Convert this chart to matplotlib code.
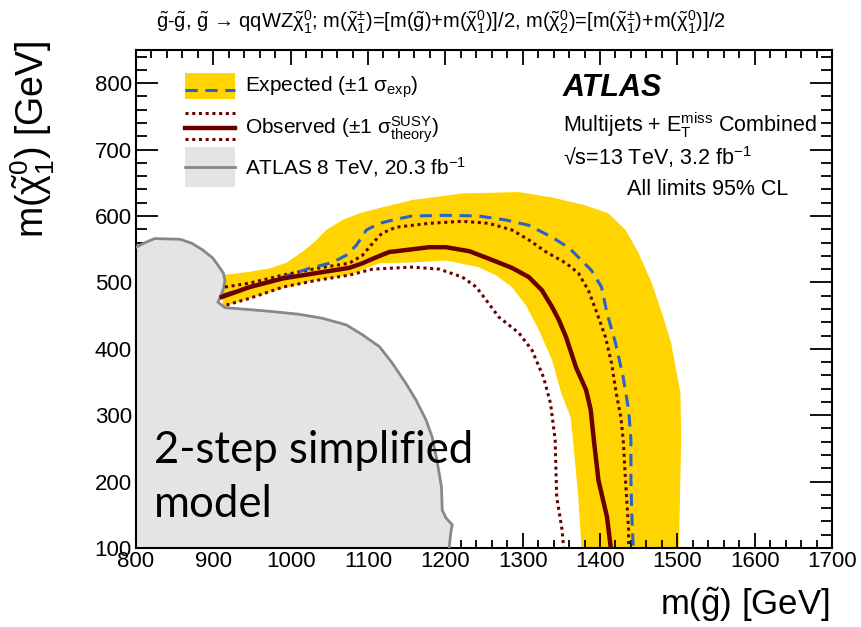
import numpy as np
import matplotlib
matplotlib.use("Agg")
import matplotlib.pyplot as plt
from matplotlib.ticker import MultipleLocator
from matplotlib.patches import Rectangle
from matplotlib.lines import Line2D

plt.rcParams['font.family'] = ['Liberation Sans', 'DejaVu Sans']
plt.rcParams['mathtext.fontset'] = 'custom'
plt.rcParams['mathtext.rm'] = 'Liberation Sans'
plt.rcParams['mathtext.it'] = 'Liberation Sans'
plt.rcParams['mathtext.bf'] = 'Liberation Sans:bold'
plt.rcParams['mathtext.sf'] = 'Liberation Sans'
plt.rcParams['mathtext.default'] = 'regular'

# ATLAS 8 TeV excluded region (boundary)
run1_x = [800, 812, 824, 857, 872, 886, 899, 906, 913, 915, 913, 906, 915, 947, 977, 1011, 1041,
          1072, 1093, 1115, 1131, 1149, 1162, 1175, 1183, 1189, 1195, 1196, 1201, 1209, 1207, 1205]
run1_y = [553, 560, 566, 565, 559, 549, 537, 526, 514, 503, 490, 470, 462, 459, 456, 452, 446,
          436, 421, 403, 379, 348, 323, 293, 267, 233, 192, 157, 145, 135, 123, 100]

# expected +/-1 sigma band: upper/outer edge and lower/inner edge
band_up_x = [912, 947, 973, 995, 1015, 1031, 1046, 1067, 1089, 1118, 1157, 1222, 1295, 1338,
             1381, 1411, 1433, 1450, 1467, 1480, 1492, 1504, 1505, 1502]
band_up_y = [511, 516, 521, 530, 546, 561, 579, 594, 604, 613, 624, 634, 636, 628,
             616, 604, 579, 544, 499, 454, 409, 333, 263, 100]
band_dn_x = [912, 947, 990, 1033, 1076, 1115, 1157, 1201, 1243, 1265, 1286, 1304, 1321, 1338,
             1350, 1362, 1365, 1372, 1376]
band_dn_y = [463, 476, 491, 503, 511, 529, 530, 533, 523, 511, 493, 466, 428, 383,
             333, 297, 263, 177, 100]

# expected limit
exp_x = [912, 947, 990, 1024, 1054, 1072, 1085, 1098, 1115, 1136, 1157, 1201, 1243, 1278,
         1308, 1338, 1360, 1372, 1389, 1402, 1409, 1420, 1430, 1437, 1440, 1440, 1441, 1443]
exp_y = [481, 493, 508, 521, 530, 541, 556, 579, 589, 595, 600, 601, 600, 594,
         586, 568, 552, 538, 518, 493, 454, 409, 357, 308, 263, 202, 153, 100]

# observed limit
obs_x = [911, 947, 990, 1033, 1076, 1093, 1111, 1128, 1137, 1179, 1201, 1231, 1260, 1286,
         1308, 1325, 1338, 1347, 1356, 1369, 1382, 1388, 1392, 1398, 1409, 1414]
obs_y = [478, 493, 506, 514, 522, 529, 538, 546, 547, 553, 553, 547, 534, 522,
         508, 488, 463, 443, 418, 372, 338, 308, 263, 202, 147, 100]

# observed +1 sigma theory
obs_up_x = [915, 947, 990, 1033, 1076, 1093, 1106, 1118, 1136, 1179, 1222, 1256, 1286, 1308,
            1330, 1356, 1372, 1385, 1396, 1407, 1415, 1421, 1427, 1430, 1433, 1437, 1437]
obs_up_y = [493, 499, 511, 521, 529, 541, 559, 574, 583, 589, 592, 589, 579, 564,
            546, 529, 514, 488, 454, 418, 378, 333, 297, 263, 202, 127, 100]

# observed -1 sigma theory
obs_dn_x = [917, 947, 990, 1033, 1076, 1106, 1157, 1192, 1222, 1240, 1253, 1269, 1295, 1312,
            1327, 1336, 1342, 1344, 1351, 1353]
obs_dn_y = [466, 476, 493, 503, 511, 520, 523, 520, 508, 493, 473, 448, 424, 398,
            357, 318, 263, 177, 127, 100]

yellow = '#ffd400'
blue = '#2a62c9'
dred = '#6b0000'
gfill = '#e4e4e4'
gline = '#888888'

W, H = 862, 627
fig = plt.figure(figsize=(W / 100, H / 100), dpi=100)
ax = fig.add_axes([136 / W, 1 - 548 / H, 696 / W, 498 / H])


def fpx(x, y):
    # pixel position -> figure fraction
    return x / W, 1 - y / H


# band
bx = np.concatenate([band_up_x, band_dn_x[::-1]])
by = np.concatenate([band_up_y, band_dn_y[::-1]])
ax.fill(bx, by, color=yellow, lw=0, zorder=1)

# run-1 region
gx = np.concatenate([run1_x, [run1_x[-1], 780, 780]])
gy = np.concatenate([run1_y, [80, 80, run1_y[0]]])
ax.fill(gx, gy, color=gfill, lw=0, zorder=2)
ax.plot(run1_x, run1_y, color=gline, lw=2, zorder=3)

ax.plot(obs_dn_x, obs_dn_y, color=dred, lw=2.2, ls=(0, (1, 1.2)), zorder=4)
ax.plot(obs_up_x, obs_up_y, color=dred, lw=2.2, ls=(0, (1, 1.2)), zorder=4)
ax.plot(exp_x, exp_y, color=blue, lw=2.2, ls=(0, (4, 2.5)), zorder=5)
ax.plot(obs_x, obs_y, color=dred, lw=3.2, zorder=6)

ax.set_xlim(800, 1700)
ax.set_ylim(100, 850)
ax.xaxis.set_major_locator(MultipleLocator(100))
ax.xaxis.set_minor_locator(MultipleLocator(20))
ax.yaxis.set_major_locator(MultipleLocator(100))
ax.yaxis.set_minor_locator(MultipleLocator(20))
ax.tick_params(which='both', direction='in', top=True, right=True, width=1.3, labelsize=16)
ax.tick_params(axis='x', which='major', length=11, pad=2)
ax.tick_params(axis='x', which='minor', length=6)
ax.tick_params(axis='y', which='major', length=16, pad=3)
ax.tick_params(axis='y', which='minor', length=8)
for s in ax.spines.values():
    s.set_linewidth(1.5)

# axis titles
fig.text(*fpx(830, 605), r'm($\tilde{g}$) [GeV]', fontsize=25, ha='right', va='center')
fig.text(*fpx(33, 40), r'm($\tilde{\chi}^{0}_{1}$) [GeV]', fontsize=27, rotation=90,
         ha='center', va='top')

# title
fig.text(*fpx(441, 22),
         r'$\tilde{g}$-$\tilde{g}$, $\tilde{g}$ \u2192 qqWZ$\tilde{\chi}^{0}_{1}$; '.replace('\\u2192', '\u2192') +
         r'm($\tilde{\chi}^{\pm}_{1}$)=[m($\tilde{g}$)+m($\tilde{\chi}^{0}_{1}$)]/2, '
         r'm($\tilde{\chi}^{0}_{2}$)=[m($\tilde{\chi}^{\pm}_{1}$)+m($\tilde{\chi}^{0}_{1}$)]/2',
         fontsize=14.5, ha='center', va='center')

# legend (drawn by hand, ROOT style)
x0, x1 = 185, 235
fig.add_artist(Rectangle(fpx(x0, 99), 50 / W, 26 / H, transform=fig.transFigure,
                         color=yellow, lw=0))
fig.add_artist(Line2D([x0 / W, x1 / W], [1 - 90 / H] * 2, color=blue, lw=2.2,
                      ls=(0, (4, 2.5))))
fig.add_artist(Line2D([x0 / W, x1 / W], [1 - 113 / H] * 2, color=dred, lw=2.2,
                      ls=(0, (1, 1.2))))
fig.add_artist(Line2D([x0 / W, x1 / W], [1 - 128 / H] * 2, color=dred, lw=3.2))
fig.add_artist(Line2D([x0 / W, x1 / W], [1 - 139 / H] * 2, color=dred, lw=2.2,
                      ls=(0, (1, 1.2))))
fig.add_artist(Rectangle(fpx(x0, 187), 50 / W, 40 / H, transform=fig.transFigure,
                         color=gfill, lw=0))
fig.add_artist(Line2D([x0 / W, x1 / W], [1 - 167 / H] * 2, color=gline, lw=2))
fig.text(*fpx(245, 87), r'Expected ($\pm$1 $\sigma_{exp}$)', fontsize=15, va='center')
fig.text(*fpx(245, 130), r'Observed ($\pm$1 $\sigma^{SUSY}_{theory}$)', fontsize=15, va='center')
fig.text(*fpx(245, 167), r'ATLAS 8 TeV, 20.3 fb$^{-1}$', fontsize=15, va='center')

# ATLAS labels
fig.text(*fpx(563, 88), 'ATLAS', fontsize=22, fontweight='bold', fontstyle='italic',
         va='center')
fig.text(*fpx(563, 125), r'Multijets + E$_{T}^{miss}$ Combined', fontsize=15.5, va='center')
fig.text(*fpx(563, 157), '\u221As=13 TeV, 3.2 fb$^{-1}$', fontsize=15.5, va='center')
fig.text(*fpx(627, 190), 'All limits 95% CL', fontsize=15.5, va='center')

fig.text(*fpx(154, 463), '2-step simplified', fontsize=31.5, family='Lato',
         va='baseline', ha='left')
fig.text(*fpx(154, 517), 'model', fontsize=31.5, family='Lato',
         va='baseline', ha='left')

fig.savefig('out.png', dpi=100)
